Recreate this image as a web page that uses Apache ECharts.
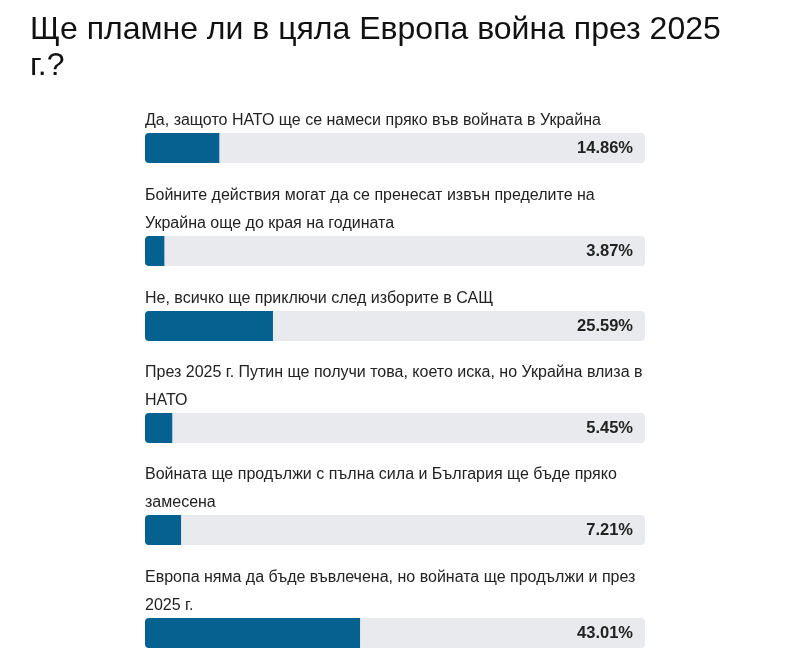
<!DOCTYPE html>
<html>
<head>
<meta charset="utf-8">
<script src="https://cdn.jsdelivr.net/npm/echarts@6/dist/echarts.min.js"></script>
<style>
  html, body { margin: 0; padding: 0; background: #fff; }
  #chart { width: 797px; height: 649px; }
</style>
</head>
<body>
<div id="chart"></div>
<script>
var title_text = 'Ще пламне ли в цяла Европа война през 2025\nг.?';

var answers = [
    'Да, защото НАТО ще се намеси пряко във войната в Украйна',
    'Бойните действия могат да се пренесат извън пределите на\nУкрайна още до края на годината',
    'Не, всичко ще приключи след изборите в САЩ',
    'През 2025 г. Путин ще получи това, което иска, но Украйна влиза в\nНАТО',
    'Войната ще продължи с пълна сила и България ще бъде пряко\nзамесена',
    'Европа няма да бъде въвлечена, но войната ще продължи и през\n2025 г.'
];

var percents = [14.86, 3.87, 25.59, 5.45, 7.21, 43.01];

// top of each bar in px (label height differs)
var bar_tops = [133, 236, 311, 413, 515, 618];

var myChart = echarts.init(document.getElementById('chart'));

var grid = [], xAxis = [], yAxis = [], series = [];

answers.forEach(function(item, i){
    grid.push({left: 145, width: 500, top: bar_tops[i], height: 30});
    xAxis.push({gridIndex: i, type: 'value', min: 0, max: 100, show: false});
    yAxis.push({gridIndex: i, type: 'category', data: [item], show: false});

    // grey track with the percentage on the right
    series.push({
        type: 'bar',
        xAxisIndex: i,
        yAxisIndex: i,
        data: [100],
        barWidth: 30,
        barGap: '-100%',
        silent: true,
        itemStyle: {color: '#e9eaed', borderRadius: 4},
        label: {
            show: true,
            position: 'insideRight',
            distance: 12,
            formatter: percents[i].toFixed(2) + '%',
            fontFamily: 'Liberation Sans, Arial, sans-serif',
            fontSize: 16.5,
            fontWeight: 'bold',
            color: '#222'
        }
    });

    // value bar, label is the answer text above it
    series.push({
        type: 'bar',
        xAxisIndex: i,
        yAxisIndex: i,
        data: [percents[i]],
        barWidth: 30,
        barGap: '-100%',
        itemStyle: {color: '#05618f', borderRadius: [4, 0, 0, 4]},
        label: {
            show: true,
            position: [0, 2],
            align: 'left',
            verticalAlign: 'bottom',
            formatter: item,
            fontFamily: 'Liberation Sans, Arial, sans-serif',
            fontSize: 16,
            lineHeight: 28.5,
            color: '#222'
        }
    });
});

var option = {
    animation: false,
    title: {
        text: title_text,
        left: 30,
        top: 12,
        padding: 0,
        textStyle: {
            fontFamily: 'Liberation Sans, Arial, sans-serif',
            fontSize: 32,
            fontWeight: 'normal',
            lineHeight: 36,
            color: '#111'
        }
    },
    grid: grid,
    xAxis: xAxis,
    yAxis: yAxis,
    series: series
};

myChart.setOption(option);
</script>
</body>
</html>
